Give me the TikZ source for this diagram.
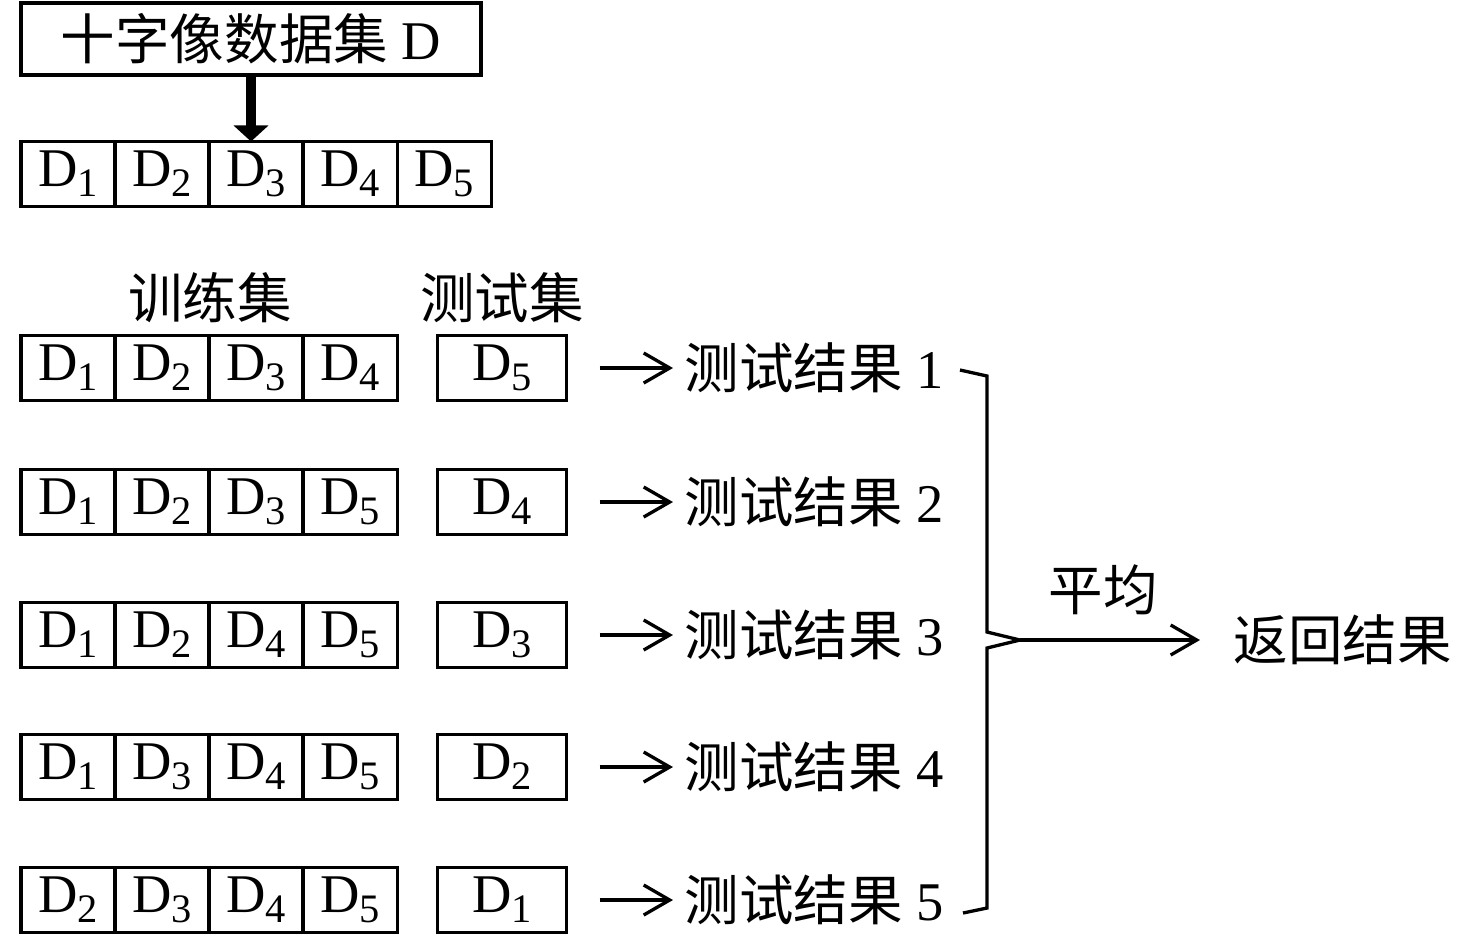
\documentclass[tikz,border=0pt]{standalone}
\usepackage{fontspec}
\setmainfont{Liberation Serif}
\newfontfamily\cjk{Noto Sans CJK SC}
\usetikzlibrary{positioning,arrows.meta}
\newcommand{\dsub}[1]{D\raisebox{-0.1cm}{\fontsize{11.5}{12}\selectfont #1}}
\begin{document}
\begin{tikzpicture}[x=0.01cm, y=-0.01cm,
        every node/.style={font=\fontsize{15.5}{18}\selectfont},
        cell/.style={draw, line width=0.033cm, outer sep=0pt, inner sep=0pt, minimum width=0.94cm, minimum height=0.65cm},
        testcell/.style={cell, minimum width=1.29cm},
        result/.style={anchor=west, inner sep=0pt},
        thin arrow/.style={-{Straight Barb[length=0.26cm,width=0.3cm]}, line width=0.033cm},
        thick arrow/.style={-{Triangle[length=0.16cm,width=0.34cm]}, line width=0.1cm}
    ]
    \useasboundingbox (0,0) rectangle (1476,941);
    % Nodes
    \node[cell, minimum width=4.6cm, minimum height=0.72cm] (data) at (251,39) {{\cjk 十字像数据集} D};
    \node[cell] (c0-1) at (68,174) {\dsub{1}};
    \node[cell, right=0pt of c0-1] (c0-2) {\dsub{2}};
    \node[cell, right=0pt of c0-2] (c0-3) {\dsub{3}};
    \node[cell, right=0pt of c0-3] (c0-4) {\dsub{4}};
    \node[cell, right=0pt of c0-4] (c0-5) {\dsub{5}};
    \node (train) at (210,298) {\cjk 训练集};
    \node (test) at (502,298) {\cjk 测试集};
    \foreach \row/\y/\a/\b/\c/\d/\t in {1/368/1/2/3/4/5, 2/502/1/2/3/5/4, 3/635/1/2/4/5/3, 4/767/1/3/4/5/2, 5/900/2/3/4/5/1} {
        \node[cell] (c\row-1) at (68,\y) {\dsub{\a}};
        \node[cell, right=0pt of c\row-1] (c\row-2) {\dsub{\b}};
        \node[cell, right=0pt of c\row-2] (c\row-3) {\dsub{\c}};
        \node[cell, right=0pt of c\row-3] (c\row-4) {\dsub{\d}};
        \node[testcell] (t\row) at (502,\y) {\dsub{\t}};
        \node[result] (r\row) at (684,\y) {{\cjk 测试结果} \row};
        \draw[thin arrow, shorten <=0.33cm, shorten >=0.11cm] (t\row.east) -- (r\row.west);
    }
    \node (avg) at (1103,590) {\cjk 平均};
    \node[result] (ret) at (1233,640) {\cjk 返回结果};
    % Edges
    \draw[thick arrow] (data.south) -- (data.south |- c0-3.north);
    \coordinate (tip) at (1020,640);
    \draw[line width=0.033cm] (960,370) -- (987,376) -- (987,632) -- (tip) -- (987,648) -- (987,908) -- (963,913);
    \draw[thin arrow, shorten >=0.33cm] (tip) -- (ret.west);
\end{tikzpicture}
\end{document}
